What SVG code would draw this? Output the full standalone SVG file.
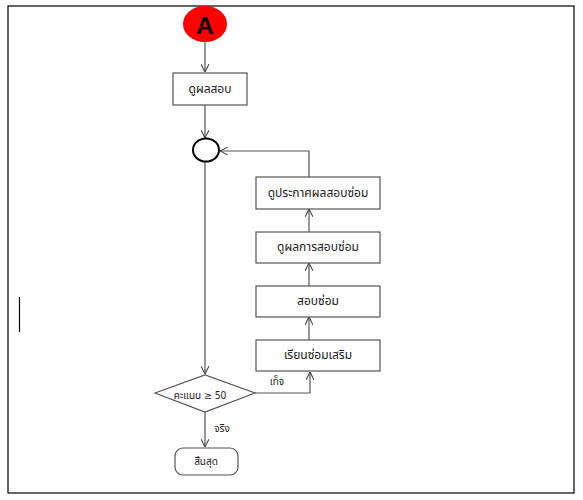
<svg xmlns="http://www.w3.org/2000/svg" width="583" height="500" viewBox="0 0 583 500">
<defs>
<style>
.box{fill:#fff;stroke:#555;stroke-width:1.2}
.t{font-family:"Noto Sans Thai","Noto Sans","DejaVu Sans",sans-serif;font-size:12px;fill:#222;text-anchor:middle;dominant-baseline:central}
.s{font-size:10px}
.c{fill:none;stroke:#555;stroke-width:1.2}
</style>
<marker id="ah" viewBox="0 0 10 10" refX="10" refY="5" markerWidth="8" markerHeight="8" orient="auto" markerUnits="userSpaceOnUse">
<polyline points="0,0 10,5 0,10" fill="none" stroke="#444" stroke-width="1.3"/>
</marker>
</defs>
<rect x="0" y="0" width="583" height="500" fill="#fff"/>
<rect x="8" y="6" width="566" height="487" fill="none" stroke="#000" stroke-width="1.2"/>
<line x1="19.5" y1="297" x2="19.5" y2="332" stroke="#000" stroke-width="1.2"/>
<g id="connectors">
<line class="c" x1="205" y1="42" x2="205" y2="72" marker-end="url(#ah)"/>
<line class="c" x1="205" y1="105" x2="205" y2="138" marker-end="url(#ah)"/>
<line class="c" x1="205" y1="162" x2="205" y2="374" marker-end="url(#ah)"/>
<polyline class="c" points="309,177 309,151 220,151" marker-end="url(#ah)"/>
<line class="c" x1="309" y1="232" x2="309" y2="209" marker-end="url(#ah)"/>
<line class="c" x1="309" y1="286" x2="309" y2="263" marker-end="url(#ah)"/>
<line class="c" x1="309" y1="340" x2="309" y2="317" marker-end="url(#ah)"/>
<polyline class="c" points="255,393 310,393 310,372" marker-end="url(#ah)"/>
<line class="c" x1="205" y1="412" x2="205" y2="447" marker-end="url(#ah)"/>
<text class="t s" x="277" y="382">เท็จ</text>
<text class="t s" x="222" y="429">จริง</text>
</g>
<g id="start">
<ellipse cx="205" cy="24" rx="22" ry="18" fill="#ff0000"/>
<text x="205" y="25" font-family="Liberation Sans, Arial, sans-serif" font-weight="bold" font-size="24" fill="#000" text-anchor="middle" dominant-baseline="central">A</text>
</g>
<g id="n1">
<rect class="box" x="173" y="73" width="74" height="32"/>
<text class="t" x="210" y="89">ดูผลสอบ</text>
</g>
<g id="join">
<ellipse cx="206" cy="150" rx="13" ry="11.5" fill="#fff" stroke="#000" stroke-width="2"/>
</g>
<g id="n2">
<rect class="box" x="256" y="177" width="124" height="32"/>
<text class="t" x="318" y="193">ดูประกาศผลสอบซ่อม</text>
</g>
<g id="n3">
<rect class="box" x="256" y="232" width="124" height="31"/>
<text class="t" x="318" y="247">ดูผลการสอบซ่อม</text>
</g>
<g id="n4">
<rect class="box" x="256" y="286" width="124" height="31"/>
<text class="t" x="318" y="301">สอบซ่อม</text>
</g>
<g id="n5">
<rect class="box" x="256" y="340" width="124" height="31"/>
<text class="t" x="318" y="355">เรียนซ่อมเสริม</text>
</g>
<g id="decision">
<polygon class="box" points="155,393 205,375 255,393 205,412"/>
<text class="t s" x="200" y="396">คะแนน ≥ 50</text>
</g>
<g id="end">
<rect class="box" x="175" y="448" width="63" height="27" rx="8"/>
<text class="t s" x="206" y="462">สิ้นสุด</text>
</g>
</svg>
